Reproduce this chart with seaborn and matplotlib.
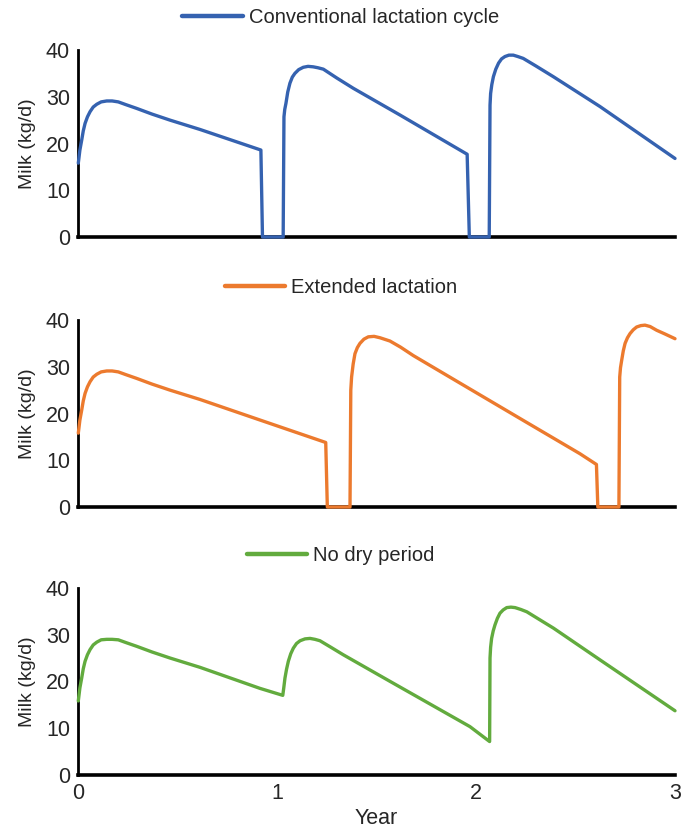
import matplotlib
matplotlib.use("Agg")
import matplotlib.pyplot as plt
import seaborn as sns
import pandas as pd

# ---- data ----
conv_year = [0, 0.008, 0.017, 0.025, 0.034, 0.046, 0.059, 0.075, 0.093, 0.115, 0.143, 0.17,
             0.201, 0.24, 0.294, 0.37, 0.461, 0.612, 0.918, 0.926,
             1.030, 1.034, 1.038, 1.044, 1.053, 1.064, 1.076, 1.089, 1.108, 1.131, 1.155, 1.181,
             1.205, 1.232, 1.30, 1.383, 1.617, 1.955, 1.966,
             2.066, 2.070, 2.073, 2.079, 2.087, 2.099, 2.113, 2.128, 2.145, 2.165, 2.187, 2.21,
             2.237, 2.30, 2.388, 2.623, 3.0]
conv_milk = [15.8, 18.6, 20.7, 22.7, 24.3, 25.7, 26.8, 27.8, 28.4, 28.9, 29.1, 29.1,
             28.9, 28.3, 27.5, 26.3, 25.0, 23.0, 18.6, 0,
             0, 25.7, 27.3, 28.6, 31.0, 32.9, 34.2, 35.0, 35.8, 36.3, 36.5, 36.4,
             36.2, 35.9, 34.0, 31.8, 26.1, 17.7, 0,
             0, 28.2, 30.7, 32.6, 34.3, 35.9, 37.2, 38.1, 38.6, 38.9, 38.9, 38.6,
             38.2, 36.6, 34.3, 27.9, 16.8]

ext_year = [0, 0.008, 0.017, 0.025, 0.034, 0.046, 0.059, 0.075, 0.093, 0.115, 0.143, 0.17,
            0.201, 0.24, 0.294, 0.37, 0.461, 0.612, 0.9, 1.244, 1.252,
            1.366, 1.370, 1.374, 1.382, 1.391, 1.403, 1.416, 1.436, 1.458, 1.487, 1.517,
            1.567, 1.62, 1.684, 1.919, 2.25, 2.522, 2.605, 2.612,
            2.718, 2.722, 2.726, 2.732, 2.74, 2.749, 2.761, 2.774, 2.79, 2.807, 2.828, 2.849,
            2.875, 2.908, 2.95, 3.0]
ext_milk = [15.8, 18.6, 20.7, 22.7, 24.3, 25.7, 26.8, 27.8, 28.4, 28.9, 29.1, 29.1,
            28.9, 28.3, 27.5, 26.3, 25.0, 23.0, 18.8, 13.8, 0,
            0, 25.0, 27.8, 30.6, 32.8, 34.1, 35.0, 35.9, 36.4, 36.5, 36.2,
            35.5, 34.2, 32.4, 26.5, 18.2, 11.4, 9.1, 0,
            0, 27.8, 29.8, 31.4, 33.4, 35.0, 36.2, 37.1, 37.9, 38.5, 38.8, 38.9,
            38.6, 37.8, 37.0, 36.0]

nodry_year = [0, 0.008, 0.017, 0.025, 0.034, 0.046, 0.059, 0.075, 0.093, 0.115, 0.143, 0.17,
              0.201, 0.24, 0.294, 0.37, 0.461, 0.612, 0.913, 1.028,
              1.033, 1.039, 1.047, 1.056, 1.068, 1.081, 1.097, 1.115, 1.14, 1.165, 1.19,
              1.215, 1.27, 1.332, 1.567, 1.969, 2.068,
              2.070, 2.073, 2.078, 2.086, 2.095, 2.107, 2.12, 2.136, 2.154, 2.175, 2.196,
              2.225, 2.255, 2.32, 2.389, 2.623, 3.0]
nodry_milk = [15.8, 18.6, 20.7, 22.7, 24.3, 25.7, 26.8, 27.8, 28.4, 28.9, 29.0, 29.0,
              28.9, 28.3, 27.5, 26.3, 25.0, 23.0, 18.5, 17.0,
              18.6, 20.7, 22.6, 24.3, 25.9, 27.1, 28.1, 28.7, 29.1, 29.2, 29.0,
              28.7, 27.3, 25.7, 20.0, 10.3, 7.1,
              25.0, 27.3, 29.2, 30.8, 32.1, 33.5, 34.6, 35.3, 35.8, 35.9, 35.8,
              35.4, 34.9, 33.2, 31.4, 24.6, 13.7]

series_labels = ["Conventional lactation cycle", "Extended lactation", "No dry period"]
y_ticks = [0, 10, 20, 30, 40]
x_ticks = [0, 1, 2, 3]

# ---- styling ----
sns.set_theme(style="white")
FONT = ["Liberation Sans Narrow", "Liberation Sans", "DejaVu Sans"]
plt.rcParams["font.family"] = FONT

colors = ["#3562B0", "#EC7A2E", "#62AB3E"]
W, H = 681, 833
fig = plt.figure(figsize=(W / 100, H / 100), dpi=100)

left = 78.3 / W
width = (675 - 78.3) / W
panels = [(50, 237), (320, 507), (588, 774.7)]  # pixel top/bottom of y range

data = [(conv_year, conv_milk), (ext_year, ext_milk), (nodry_year, nodry_milk)]

for i, ((top, bot), (yrs, milk), lab, col) in enumerate(zip(panels, data, series_labels, colors)):
    ax = fig.add_axes([left, 1 - bot / H, width, (bot - top) / H])
    df = pd.DataFrame({"Year": yrs, "Milk": milk})
    sns.lineplot(data=df, x="Year", y="Milk", ax=ax, color=col, linewidth=2.4,
                 sort=False, estimator=None, label=lab, clip_on=False, zorder=5,
                 solid_joinstyle="round", solid_capstyle="round")
    ax.set_xlim(0, 3)
    ax.set_ylim(0, 40)
    ax.set_yticks(y_ticks)
    ax.set_yticklabels([str(v) for v in y_ticks], fontsize=15.5)
    ax.tick_params(axis="both", length=0, pad=6)
    for s in ["top", "right"]:
        ax.spines[s].set_visible(False)
    ax.spines["left"].set_color("black")
    ax.spines["left"].set_linewidth(2.0)
    ax.spines["bottom"].set_color("black")
    ax.spines["bottom"].set_linewidth(2.6)
    ax.set_ylabel("Milk (kg/d)", fontsize=14, labelpad=7)
    ax.set_xticks(x_ticks)
    if i == 2:
        ax.set_xticklabels([str(v) for v in x_ticks], fontsize=15.5)
        ax.set_xlabel("Year", fontsize=15.5, labelpad=3)
    else:
        ax.set_xticklabels([])
        ax.set_xlabel("")
    leg = ax.legend(loc="center", bbox_to_anchor=(0.44, 1.175), frameon=False,
                    fontsize=14.5, handlelength=3.0, handletextpad=0.3)
    for line in leg.get_lines():
        line.set_linewidth(3.2)

fig.savefig("out.png", dpi=100)
